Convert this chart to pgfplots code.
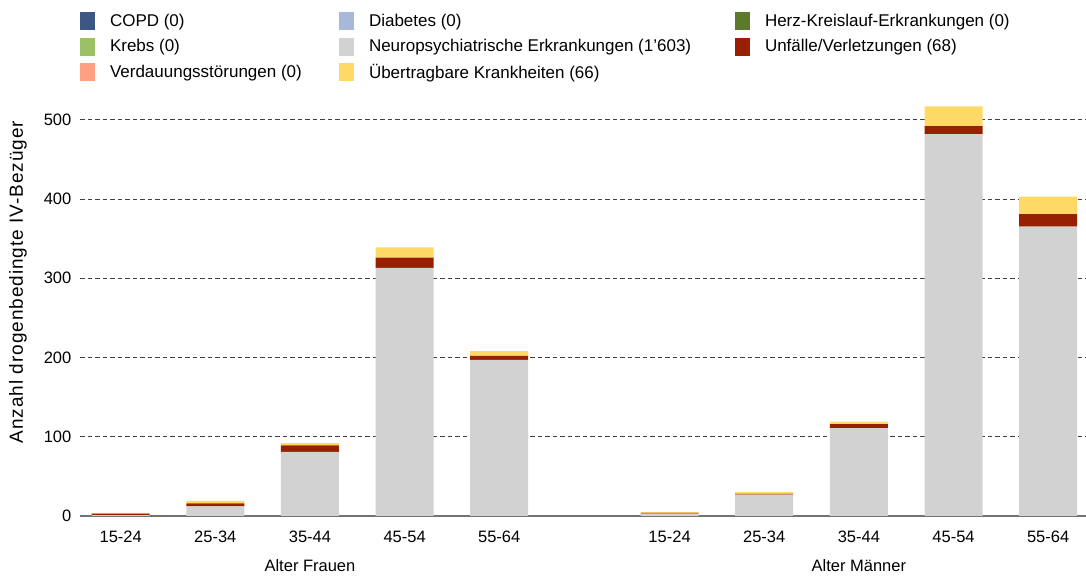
\documentclass[border=0pt]{standalone}
\usepackage{pgfplots}
\usepackage{pgfplotstable}
\pgfplotsset{compat=1.18}
\usepackage{fontspec}
\setmainfont{Liberation Sans}
\definecolor{cCOPD}{HTML}{3D5683}
\definecolor{cDiab}{HTML}{A7B8D9}
\definecolor{cHerz}{HTML}{5C7A29}
\definecolor{cKrebs}{HTML}{9CC066}
\definecolor{cNeuro}{HTML}{D2D2D2}
\definecolor{cUnf}{HTML}{982000}
\definecolor{cVerd}{HTML}{FFA083}
\definecolor{cUebt}{HTML}{FFD966}
\pgfplotstableread{
x    copd diab herz krebs neuro unf verd uebt
0    0 0 0 0 1   2  0 1
1    0 0 0 0 12  4  0 3
2    0 0 0 0 81  8  0 3
3    0 0 0 0 313 13 0 13
4    0 0 0 0 197 5  0 6
5.8  0 0 0 0 3   1  0 1
6.8  0 0 0 0 27  1  0 2
7.8  0 0 0 0 111 5  0 3
8.8  0 0 0 0 482 10 0 25
9.8  0 0 0 0 365 16 0 22
}\datatable
\newcommand{\fs}{\fontsize{16.5}{19}\selectfont}
\begin{document}
\fs
\begin{tikzpicture}
\path[use as bounding box] (0,0) rectangle (1086pt,577pt);
\begin{axis}[
  at={(80pt,61pt)}, anchor=south west,
  scale only axis, width=1006pt, height=420pt,
  xmin=-0.43, xmax=10.2, ymin=0, ymax=530,
  clip=false,
  ybar stacked, bar width=58pt,
  axis line style={draw=none},
  major tick length=0pt,
  xtick={0,1,2,3,4,5.8,6.8,7.8,8.8,9.8},
  xticklabels={15-24,25-34,35-44,45-54,55-64,15-24,25-34,35-44,45-54,55-64},
  ytick={0,100,200,300,400,500},
  ymajorgrids,
  grid style={black!75, line width=0.9pt, dash pattern=on 4.5pt off 3pt},
  /pgf/number format/assume math mode=true,
  tick label style={font=\fs},
  xticklabel style={yshift=-9pt},
  yticklabel style={xshift=-3pt},
  ylabel={\addfontfeature{LetterSpace=5}Anzahl drogenbedingte IV-Bezüger},
  every axis y label/.style={at={(axis description cs:-0.0616,0.557)}, rotate=90, anchor=center, font=\fontsize{19}{21}\selectfont},
  legend columns=3,
  legend style={at={(axis description cs:0,1.199)}, anchor=north west, draw=none, fill=none, inner sep=0pt, outer sep=0pt,
    font=\fontsize{17}{19}\selectfont, column sep=15pt, row sep=7.5pt,
    nodes={inner sep=0pt}},
  legend image code/.code={\path[#1] (0pt,-9pt) rectangle (15pt,9pt);},
  legend cell align=left,
]
\addplot[fill=cCOPD, draw=none] table[x=x, y=copd] {\datatable};
\addlegendentry{\makebox[214pt][l]{COPD (0)}}
\addplot[fill=cDiab, draw=none] table[x=x, y=diab] {\datatable};
\addlegendentry{\makebox[351pt][l]{Diabetes (0)}}
\addplot[fill=cHerz, draw=none] table[x=x, y=herz] {\datatable};
\addlegendentry{Herz-Kreislauf-Erkrankungen (0)}
\addplot[fill=cKrebs, draw=none] table[x=x, y=krebs] {\datatable};
\addlegendentry{\makebox[214pt][l]{Krebs (0)}}
\addplot[fill=cNeuro, draw=none] table[x=x, y=neuro] {\datatable};
\addlegendentry{\makebox[351pt][l]{Neuropsychiatrische Erkrankungen (1'603)}}
\addplot[fill=cUnf, draw=none] table[x=x, y=unf] {\datatable};
\addlegendentry{Unfälle/Verletzungen (68)}
\addplot[fill=cVerd, draw=none] table[x=x, y=verd] {\datatable};
\addlegendentry{\makebox[214pt][l]{Verdauungsstörungen (0)}}
\addplot[fill=cUebt, draw=none] table[x=x, y=uebt] {\datatable};
\addlegendentry{\makebox[351pt][l]{Übertragbare Krankheiten (66)}}
\draw[black!55, line width=1.2pt] (axis cs:-0.43,0) -- (axis cs:10.2,0);
\draw[black!85, line width=1.2pt, dash pattern=on 4.5pt off 3pt] (axis cs:-0.43,0) -- (axis cs:10.2,0);
\node[anchor=base, font=\fs] at (axis cs:2,0) [yshift=-56pt] {Alter Frauen};
\node[anchor=base, font=\fs] at (axis cs:7.8,0) [yshift=-56pt] {Alter Männer};
\end{axis}
\end{tikzpicture}
\end{document}
